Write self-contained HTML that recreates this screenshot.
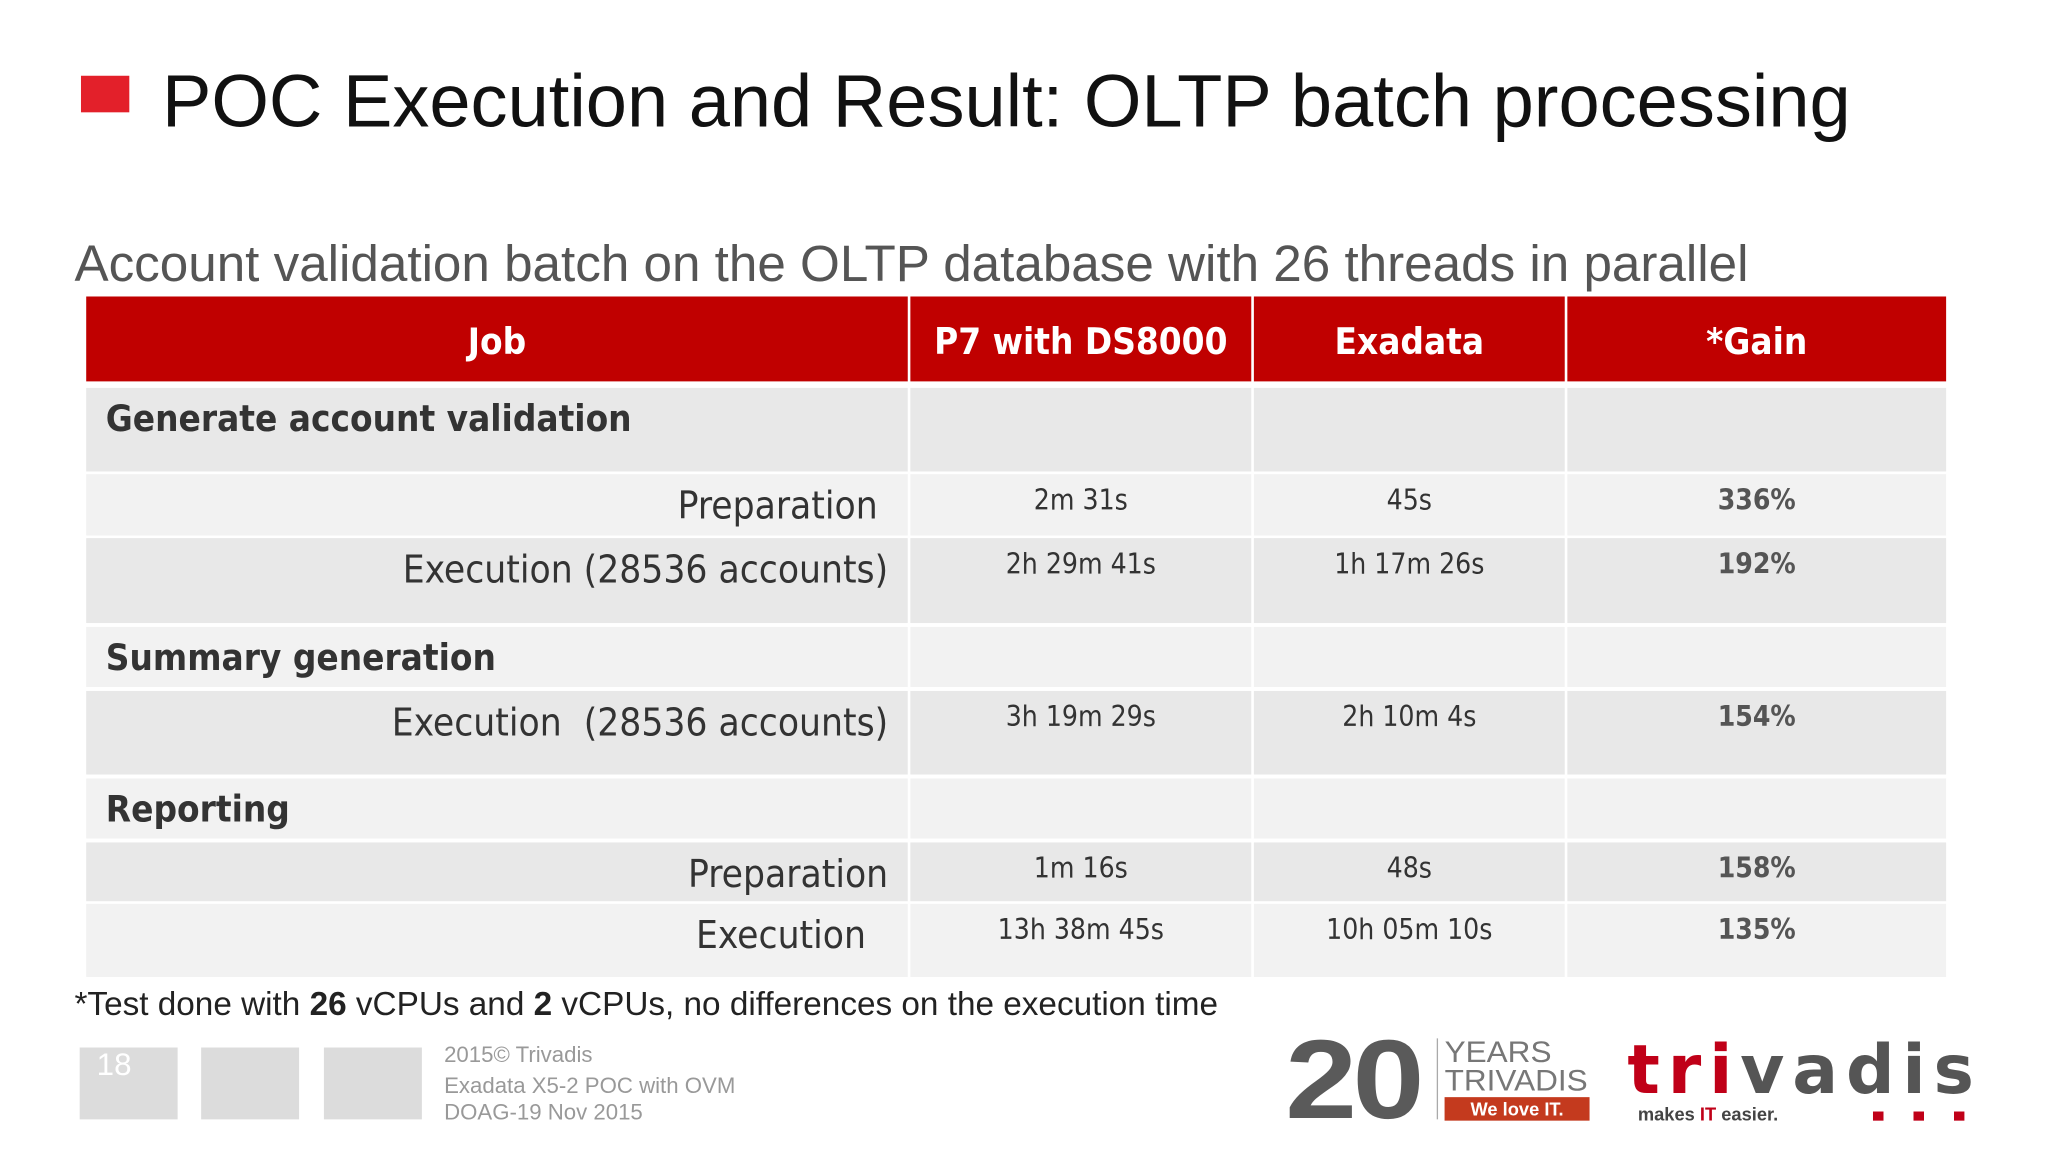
<!DOCTYPE html>
<html><head><meta charset="utf-8">
<style>
html,body{margin:0;padding:0;width:2048px;height:1152px;overflow:hidden;background:#fff;}
#s{position:absolute;left:0;top:0;width:1568px;height:882px;transform:scale(1.306122);transform-origin:0 0;font-family:"Liberation Sans",sans-serif;}
.a{position:absolute;}
.c{position:absolute;box-sizing:border-box;font-family:"DejaVu Sans Condensed","DejaVu Sans",sans-serif;}
.h{background:#c00000;color:#fff;font-weight:bold;font-size:28px;display:flex;align-items:center;justify-content:center;padding-top:4px;}
.v{font-size:21.5px;color:#333;text-align:center;padding-top:8px;}
.g{font-weight:bold;color:#555;}
.sec{font-size:28px;font-weight:bold;color:#333;padding-left:15px;}
.sub{font-size:29.5px;color:#333;text-align:right;}
</style></head><body>
<div id="s">
<div class="a" style="left:62px;top:58px;width:37px;height:28px;background:#e3202a"></div>
<div class="a" style="left:124px;top:46px;font-size:56.7px;color:#111;white-space:nowrap">POC Execution and Result: OLTP batch processing</div>
<div class="a" style="left:57px;top:181px;font-size:39.2px;color:#555;white-space:nowrap">Account validation batch on the OLTP database with 26 threads in parallel</div>
<div id="t"></div>
<div class="a" style="left:57px;top:755px;font-size:25.5px;color:#222;white-space:nowrap">*Test done with <b>26</b> vCPUs and <b>2</b> vCPUs, no differences on the execution time</div>
<div class="a" style="left:61px;top:802px;width:75px;height:55px;background:#dcdcdc;color:#fff;font-size:24px;padding-left:13px;box-sizing:border-box;line-height:28px">18</div>
<div class="a" style="left:154px;top:802px;width:75px;height:55px;background:#dcdcdc"></div>
<div class="a" style="left:248px;top:802px;width:75px;height:55px;background:#dcdcdc"></div>
<div class="a" style="left:340px;top:798px;font-size:17px;color:#999;line-height:20px">2015© Trivadis<div style="margin-top:4px">Exadata X5-2 POC with OVM<br>DOAG-19 Nov 2015</div></div>
<div class="a" style="left:984px;top:784px;font-size:86px;font-weight:bold;color:#5a5a5a;letter-spacing:-3px;line-height:86px;transform:scaleX(1.15);transform-origin:0 0">20</div>
<div class="a" style="left:1100px;top:795px;width:1px;height:62px;background:#aaa"></div>
<div class="a" style="left:1106px;top:794px;font-size:23px;color:#777;line-height:22px;transform:scaleX(1.05);transform-origin:0 0">YEARS<br>TRIVADIS</div>
<div class="a" style="left:1106px;top:840px;width:111px;height:18px;background:#c43a1e;color:#fff;font-size:14px;font-weight:bold;text-align:center;line-height:18px">We love IT.</div>
<div class="a" style="left:1246px;top:792px;font-size:52px;font-weight:bold;letter-spacing:6px;line-height:56px;font-family:'DejaVu Sans',sans-serif"><span style="color:#c00018">tri</span><span style="color:#555">vadis</span></div>
<div class="a" style="left:1254px;top:845px;font-size:14px;font-weight:bold;color:#444">makes <span style="color:#c00018">IT</span> easier.</div>
<div class="a" style="left:1434px;top:851px;width:70px;height:7px;background:linear-gradient(90deg,#c00018 0 8px,transparent 8px 31px,#c00018 31px 39px,transparent 39px 62px,#c00018 62px 70px)"></div>
</div>
<script>
const headers=["Job","P7 with DS8000","Exadata","*Gain"];
const labels=["Generate account validation","Preparation","Execution (28536 accounts)","Summary generation","Execution&nbsp; (28536 accounts)","Reporting","Preparation","Execution"];
const kinds=["sec","sub","sub","sec","sub","sec","sub","sub"];
const p7=["","2m 31s","2h 29m 41s","","3h 19m 29s","","1m 16s","13h 38m 45s"];
const exa=["","45s","1h 17m 26s","","2h 10m 4s","","48s","10h 05m 10s"];
const gain=["","336%","192%","","154%","","158%","135%"];
const cols=[[66,629],[697,261],[960,238],[1200,290]];
const rows=[[297,64],[363,47],[412,65],[480,46],[529,64],[596,46],[645,45],[692,56]];
const bgs=["#e8e8e8","#f2f2f2","#e8e8e8","#f2f2f2","#e8e8e8","#f2f2f2","#e8e8e8","#f2f2f2"];
const t=document.getElementById('t');
function cell(x,y,w,h,cls,txt,bg){const d=document.createElement('div');d.className='c '+cls;d.style.left=x+'px';d.style.top=y+'px';d.style.width=w+'px';d.style.height=h+'px';if(bg)d.style.background=bg;d.innerHTML=txt;t.appendChild(d);return d;}
headers.forEach((h,i)=>{const d=cell(cols[i][0],227,cols[i][1],65,'h',h);

});
labels.forEach((l,r)=>{const [y,h]=rows[r];
const s=kinds[r]==='sec';
const d=cell(cols[0][0],y,cols[0][1],h,kinds[r],l,bgs[r]);
d.style.paddingTop=s?'7px':'7px';
if(!s){d.style.paddingRight=(l==='Execution'?'32px':(l==='Preparation'&&r===1?'23px':'15px'));}


[p7,exa,gain].forEach((arr,c)=>{const e=cell(cols[c+1][0],y,cols[c+1][1],h,'v'+(c===2?' g':''),arr[r],bgs[r]);

});
});
</script>
</body></html>
